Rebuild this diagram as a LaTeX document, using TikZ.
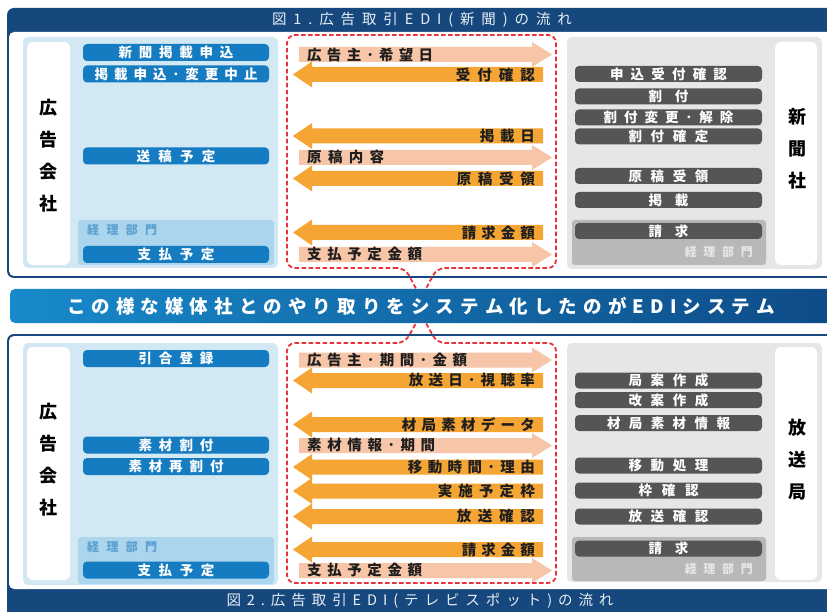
\documentclass[tikz,border=0pt]{standalone}
\usepackage{fontspec}
\setmainfont{Noto Sans CJK JP}
\definecolor{navy}{RGB}{22,72,126}
\definecolor{lpanel}{RGB}{210,232,243}
\definecolor{lsub}{RGB}{170,213,236}
\definecolor{lsubtxt}{RGB}{92,160,210}
\definecolor{pillblue}{RGB}{22,124,193}
\definecolor{gpanel}{RGB}{230,230,230}
\definecolor{gsub}{RGB}{184,184,184}
\definecolor{pillgray}{RGB}{85,85,85}
\definecolor{arrorange}{RGB}{245,165,52}
\definecolor{arrsalmon}{RGB}{247,197,168}
\definecolor{dashred}{RGB}{232,50,60}
\definecolor{bannerL}{RGB}{24,138,203}
\definecolor{bannerR}{RGB}{14,74,134}
\definecolor{txtdark}{RGB}{30,30,30}
\definecolor{hdrtxt}{RGB}{232,238,245}
\makeatletter
\newcommand\jt[2]{\makebox[#1][s]{\jt@a#2\@nil}}
\def\jt@a#1{#1\jt@b}
\def\jt@b#1{\ifx\@nil#1\else\hfill#1\expandafter\jt@b\fi}
\makeatother
\newcommand\pillfont{\fontsize{13.5}{14}\selectfont\bfseries}
\newcommand\arrfont{\fontsize{14.5}{15}\selectfont\bfseries}
\newcommand\vfont{\fontsize{18}{32}\selectfont\bfseries}
\newcommand\hdrfont{\fontsize{14.5}{15}\selectfont}
\newcommand\bannerfont{\fontsize{18.5}{19}\selectfont\bfseries}
\newcommand\subfont{\fontsize{12}{12}\selectfont\bfseries}
\tikzset{
  lpill/.style={fill=pillblue, rounded corners=4, minimum width=186, minimum height=17, inner sep=0, text=white, font=\pillfont},
  gpill/.style={fill=pillgray, rounded corners=4, minimum width=187, minimum height=16, inner sep=0, text=white, font=\pillfont},
  arrtxt/.style={inner sep=0, text=txtdark, font=\arrfont},
  vlabel/.style={inner sep=0, align=center, text=black, font=\vfont},
  reddash/.style={draw=dashred, line width=1.8, dash pattern=on 4.5pt off 2.5pt, rounded corners=8},
  hdr/.style={inner sep=0, text=hdrtxt, font=\hdrfont},
  sublbl/.style={inner sep=0, font=\subfont}
}
\newcommand\RArr[4]{%
  \fill[arrsalmon] (299,#2-7.5) -- (532,#2-7.5) -- (532,#2-12.5) -- (552,#2) -- (532,#2+12.5) -- (532,#2+7.5) -- (299,#2+7.5) -- cycle;
  \node[arrtxt, anchor=west] (#1) at (307,#2) {\jt{#3pt}{#4}};}
\newcommand\LArr[4]{%
  \fill[arrorange] (543,#2-7.5) -- (312,#2-7.5) -- (312,#2-13) -- (293,#2) -- (312,#2+13) -- (312,#2+7.5) -- (543,#2+7.5) -- cycle;
  \node[arrtxt, anchor=east] (#1) at (535,#2) {\jt{#3pt}{#4}};}
\begin{document}
\begin{tikzpicture}[x=1pt,y=-1pt]
\useasboundingbox (0,0) rectangle (827,612);
\clip (0,0) rectangle (827,612);
% ---------- top panel ----------
\fill[navy, rounded corners=7] (7,8) rectangle (845,278);
\fill[white, rounded corners=5] (9,32) rectangle (842,276);
\node[hdr] (title1) at (422,20) {\jt{300pt}{図1.広告取引EDI(新聞)の流れ}};
% left
\fill[lpanel, rounded corners=5] (23,37) rectangle (278,268);
\fill[white, rounded corners=6] (27,42) rectangle (70,265);
\fill[lsub, rounded corners=3] (78,220) rectangle (274,265);
\node[sublbl, text=lsubtxt, anchor=west] (kA) at (87,230) {\jt{70pt}{経理部門}};
\node[vlabel] (adA) at (48,156) {広\\告\\会\\社};
\node[lpill] (a1) at (176,52.5) {\jt{115pt}{新聞掲載申込}};
\node[lpill] (a2) at (176,74) {\jt{163pt}{掲載申込･変更中止}};
\node[lpill] (a3) at (176,156) {\jt{79pt}{送稿予定}};
\node[lpill] (a4) at (176,254.5) {\jt{77pt}{支払予定}};
% right
\fill[gpanel, rounded corners=5] (567,37) rectangle (822,269);
\fill[white, rounded corners=6] (775,42) rectangle (817,265);
\fill[gsub, rounded corners=3] (572,220) rectangle (766,265);
\node[sublbl, text=gpanel, anchor=east] (kB) at (753,252) {\jt{68pt}{経理部門}};
\node[vlabel] (npB) at (797,149) {新\\聞\\社};
\node[gpill] (b1) at (668.5,74) {\jt{117pt}{申込受付確認}};
\node[gpill] (b2) at (668.5,96.5) {\jt{40pt}{割付}};
\node[gpill] (b3) at (668.5,117.5) {\jt{130pt}{割付変更･解除}};
\node[gpill] (b4) at (668.5,136.5) {\jt{80pt}{割付確定}};
\node[gpill] (b5) at (668.5,176) {\jt{80pt}{原稿受領}};
\node[gpill] (b6) at (668.5,200) {\jt{40pt}{掲載}};
\node[gpill] (b7) at (668.5,231) {\jt{40pt}{請求}};
% arrows
\RArr{m1}{54.5}{126}{広告主･希望日}
\LArr{m2}{74.5}{79}{受付確認}
\LArr{m3}{136}{55}{掲載日}
\RArr{m4}{157.5}{77}{原稿内容}
\LArr{m5}{178.5}{78}{原稿受領}
\LArr{m6}{232.5}{73}{請求金額}
\RArr{m7}{254.5}{115}{支払予定金額}
% ---------- bottom panel ----------
\fill[navy, rounded corners=7] (7,334) rectangle (845,618);
\fill[white, rounded corners=5] (9,336) rectangle (842,589);
\node[hdr] (title2) at (420,601) {\jt{387pt}{図2.広告取引EDI(テレビスポット)の流れ}};
% left
\fill[lpanel, rounded corners=5] (23,343) rectangle (278,585);
\fill[white, rounded corners=6] (27,347) rectangle (70,580);
\fill[lsub, rounded corners=3] (78,537) rectangle (274,584);
\node[sublbl, text=lsubtxt, anchor=west] (kC) at (87,547) {\jt{70pt}{経理部門}};
\node[vlabel] (adC) at (48,459.5) {広\\告\\会\\社};
\node[lpill] (c1) at (176,358.5) {\jt{75pt}{引合登録}};
\node[lpill] (c2) at (176,445) {\jt{75pt}{素材割付}};
\node[lpill] (c3) at (176,466.5) {\jt{95pt}{素材再割付}};
\node[lpill] (c4) at (176,570) {\jt{77pt}{支払予定}};
% right
\fill[gpanel, rounded corners=5] (567,343) rectangle (822,582);
\fill[white, rounded corners=6] (775,347) rectangle (817,580);
\fill[gsub, rounded corners=3] (572,537) rectangle (766,581);
\node[sublbl, text=gpanel, anchor=east] (kD) at (753,569) {\jt{68pt}{経理部門}};
\node[vlabel] (bsD) at (797,460) {放\\送\\局};
\node[gpill] (d1) at (668.5,380.5) {\jt{80pt}{局案作成}};
\node[gpill] (d2) at (668.5,400) {\jt{80pt}{改案作成}};
\node[gpill] (d3) at (668.5,423) {\jt{123pt}{材局素材情報}};
\node[gpill] (d4) at (668.5,465.5) {\jt{80pt}{移動処理}};
\node[gpill] (d5) at (668.5,490.5) {\jt{60pt}{枠確認}};
\node[gpill] (d6) at (668.5,516.5) {\jt{80pt}{放送確認}};
\node[gpill] (d7) at (668.5,548.5) {\jt{40pt}{請求}};
% arrows
\RArr{n1}{360}{160}{広告主･期間･金額}
\LArr{n2}{380.5}{126}{放送日･視聴率}
\LArr{n3}{424.5}{133}{材局素材データ}
\RArr{n4}{445.5}{128}{素材情報･期間}
\LArr{n5}{467}{127}{移動時間･理由}
\LArr{n6}{491}{97}{実施予定枠}
\LArr{n7}{516.5}{78}{放送確認}
\LArr{n8}{549.5}{73}{請求金額}
\RArr{n9}{570.5}{115}{支払予定金額}
% ---------- dashed frames ----------
\draw[reddash] (405,268) -- (287,268) -- (287,35) -- (556,35) -- (556,268) -- (437,268) -- (421,298) -- cycle;
\draw[reddash] (405,343) -- (287,343) -- (287,583) -- (556,583) -- (556,343) -- (437,343) -- (421,314) -- cycle;
% ---------- banner ----------
\shade[left color=bannerL, right color=bannerR, rounded corners=5] (10,289) rectangle (850,323);
\node[inner sep=0, text=white, font=\bannerfont] (banner) at (421,306) {\jt{708pt}{この様な媒体社とのやり取りをシステム化したのがEDIシステム}};
\end{tikzpicture}
\end{document}
